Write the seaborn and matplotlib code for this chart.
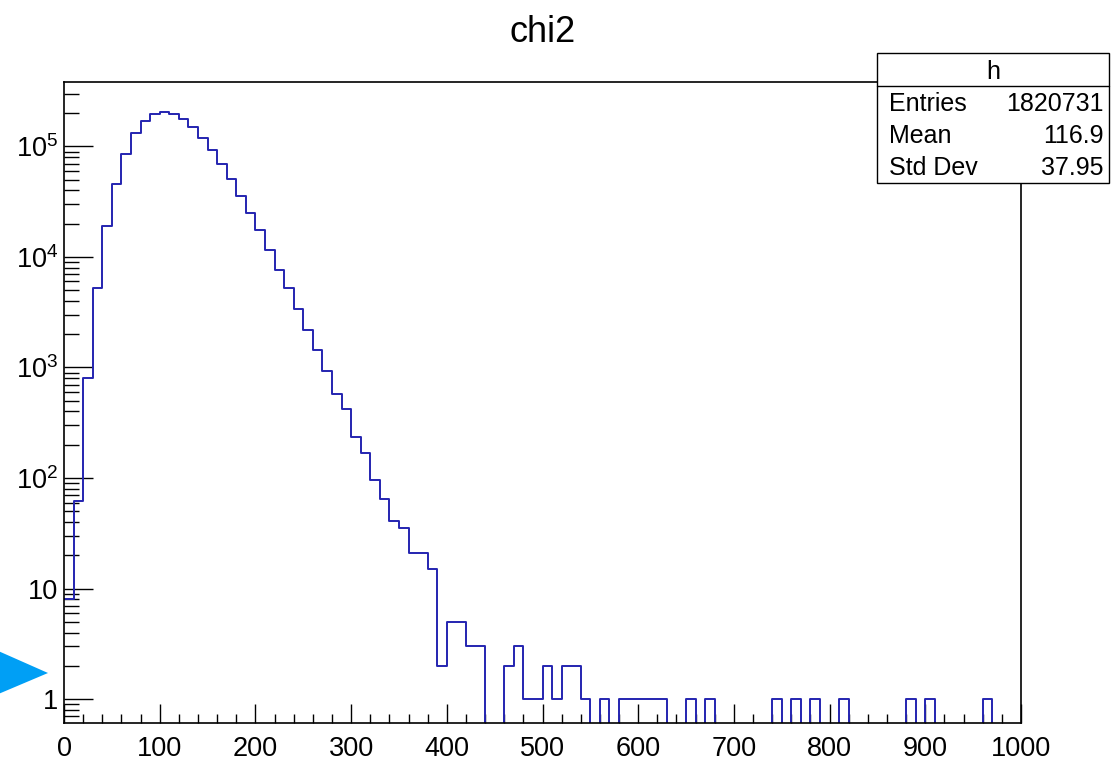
import numpy as np
import pandas as pd
import matplotlib
matplotlib.use("Agg")
import matplotlib.pyplot as plt
import seaborn as sns
from matplotlib.ticker import MultipleLocator, LogLocator, FuncFormatter, NullFormatter
from matplotlib.patches import Rectangle, Polygon

# ---- histogram content: 100 bins of width 10 on [0, 1000) ----
x_min, x_max, n_bins = 0, 1000, 100
counts = [
    8, 62, 810, 5200, 19000, 45800, 86000, 131500, 170000, 197000,          # 0-99
    205000, 197000, 176000, 150000, 120000, 93000, 70000, 50800, 35900, 25000,  # 100-199
    17600, 11600, 7600, 5200, 3400, 2170, 1440, 935, 576, 419,              # 200-299
    236, 169, 96, 64, 41, 35, 21, 21, 15, 2,                                # 300-399
    5, 5, 3, 3, 0, 0, 2, 3, 1, 1,                                           # 400-499
    2, 1, 2, 2, 1, 0, 1, 0, 1, 1,                                           # 500-599
    1, 1, 1, 0, 0, 1, 0, 1, 0, 0,                                           # 600-699
    0, 0, 0, 0, 1, 0, 1, 0, 1, 0,                                           # 700-799
    0, 1, 0, 0, 0, 0, 0, 0, 1, 0,                                           # 800-899
    1, 0, 0, 0, 0, 0, 1, 0, 0, 0,                                           # 900-999
]

hist_title = "chi2"
stats_name = "h"
stats_labels = ["Entries", "Mean", "Std Dev"]
stats_values = ["1820731", "116.9", "37.95"]

bin_width = (x_max - x_min) / n_bins
centers = x_min + bin_width * (np.arange(n_bins) + 0.5)
df = pd.DataFrame({"chi2": centers, "count": counts})

sns.set_style("white")
plt.rcParams["font.family"] = ["Liberation Sans", "DejaVu Sans"]
plt.rcParams["mathtext.default"] = "regular"
plt.rcParams["text.color"] = "black"

W, H = 1112, 763
fig = plt.figure(figsize=(W / 100, H / 100), dpi=100)
fig.patch.set_facecolor("white")

# axes frame in pixel units
ax_l, ax_r, ax_t, ax_b = 64, 1021, 82, 723
ax = fig.add_axes([ax_l / W, 1 - ax_b / H, (ax_r - ax_l) / W, (ax_b - ax_t) / H])
ax.set_facecolor("white")

sns.histplot(data=df, x="chi2", weights="count", bins=n_bins, binrange=(x_min, x_max),
             element="step", fill=False, color="#2424b0", linewidth=1.4, ax=ax)

ax.set_yscale("log")
ax.set_xlim(x_min, x_max)
ax.set_ylim(0.607, 3.83e5)
ax.set_xlabel("")
ax.set_ylabel("")

ax.xaxis.set_major_locator(MultipleLocator(100))
ax.xaxis.set_minor_locator(MultipleLocator(20))
ax.yaxis.set_major_locator(LogLocator(base=10, numticks=20))
ax.yaxis.set_minor_locator(LogLocator(base=10, subs=np.arange(2, 10), numticks=60))
ax.yaxis.set_minor_formatter(NullFormatter())


def log_label(v, pos):
    e = int(round(np.log10(v)))
    if e == 0:
        return "1"
    if e == 1:
        return "10"
    return r"$10^{%d}$" % e


ax.yaxis.set_major_formatter(FuncFormatter(log_label))

ax.tick_params(which="both", direction="in", left=True, bottom=True,
               top=False, right=False, colors="black", width=1.0)
ax.tick_params(axis="x", which="major", length=13.7, labelsize=19.5, pad=9)
ax.tick_params(axis="x", which="minor", length=6.8)
ax.tick_params(axis="y", which="major", length=20.9, labelsize=19.5, pad=4)
ax.tick_params(axis="y", which="minor", length=10.8)

for s in ax.spines.values():
    s.set_visible(True)
    s.set_color("black")
    s.set_linewidth(1.2)

ax.set_title(hist_title, fontsize=26, pad=29, color="black")


def fx(px):
    return px / W


def fy(py):
    return 1 - py / H


# statistics box
bx_l, bx_r, bx_t, bx_hdr, bx_b = 877, 1109, 53, 86, 183
fig.patches.append(Rectangle((fx(bx_l), fy(bx_b)), fx(bx_r) - fx(bx_l), fy(bx_t) - fy(bx_b),
                             transform=fig.transFigure, facecolor="white",
                             edgecolor="black", linewidth=1.0, zorder=5))
fig.lines.append(plt.Line2D([fx(bx_l), fx(bx_r)], [fy(bx_hdr), fy(bx_hdr)],
                            transform=fig.transFigure, color="black",
                            linewidth=1.0, zorder=6))
fig.text(fx((bx_l + bx_r) / 2), fy(72), stats_name, ha="center", va="center",
         fontsize=18, color="black", zorder=7)
row_y = [104, 136, 168]
for lab, val, yy in zip(stats_labels, stats_values, row_y):
    fig.text(fx(889), fy(yy), lab, ha="left", va="center", fontsize=18,
             color="black", zorder=7)
    fig.text(fx(1104), fy(yy), val, ha="right", va="center", fontsize=18,
             color="black", zorder=7)

# pointer marker at the left margin
fig.patches.append(Polygon([(fx(-4), fy(650)), (fx(48), fy(673)), (fx(-4), fy(695))],
                           closed=True, transform=fig.transFigure,
                           facecolor="#009ff5", edgecolor="none", zorder=5))

fig.savefig("out.png", dpi=100, facecolor="white")
